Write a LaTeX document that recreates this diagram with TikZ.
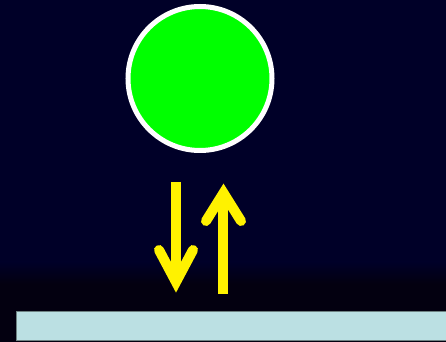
\documentclass[tikz,border=0pt]{standalone}
\usetikzlibrary{arrows.meta,positioning}
\definecolor{navy}{RGB}{0,0,40}
\definecolor{deep}{RGB}{3,0,16}
\definecolor{ball}{RGB}{0,255,0}
\definecolor{floorblue}{RGB}{187,224,227}
\definecolor{flooredge}{RGB}{110,130,130}

\begin{document}
\begin{tikzpicture}[x=0.5pt,y=-0.5pt,
  shaft/.style={draw=yellow,line width=5pt,line cap=butt},
  barb/.style={draw=yellow,line width=5pt,line cap=round,line join=miter}]
\useasboundingbox (0,0) rectangle (446,342);
% background
\fill[navy] (0,0) rectangle (446,262);
\fill[top color=navy,bottom color=deep] (0,262) rectangle (446,284);
\fill[deep] (0,284) rectangle (446,342);
% ball
\node[circle,draw=white,line width=2.5pt,fill=ball,inner sep=0pt,minimum size=72pt] (ball) at (200,78.5) {};
% down arrow
\coordinate (dtop) at (176,182);
\coordinate (dtip) at (176,282);
\coordinate (dl) at (159,250);
\coordinate (dr) at (193,250);
\draw[shaft] (dtop)--(dtip);
\draw[barb] (dl)--(dtip)--(dr);
% up arrow
\coordinate (ubot) at (223.5,294);
\coordinate (utip) at (223.5,193);
\coordinate (ul) at (206,221);
\coordinate (ur) at (241,221);
\draw[shaft] (ubot)--(utip);
\draw[barb] (ul)--(utip)--(ur);
% floor
\draw[draw=flooredge,line width=0.5pt,fill=floorblue] (17,311.5) rectangle (447,341);
\end{tikzpicture}
\end{document}
